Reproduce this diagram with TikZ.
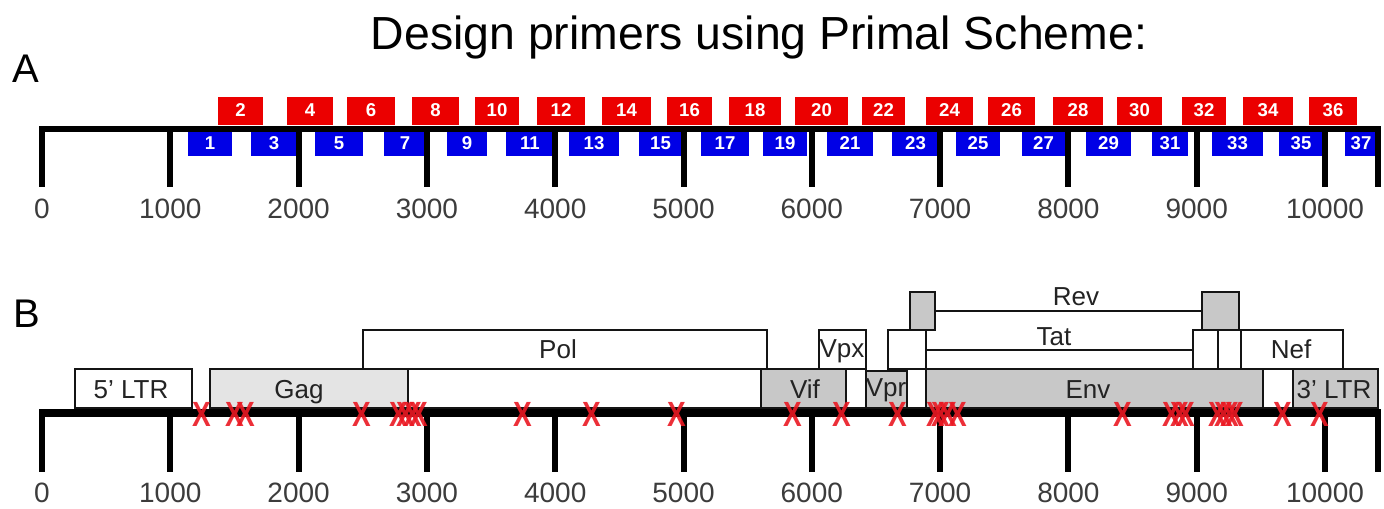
\documentclass[tikz,border=0pt]{standalone}
\usepackage{fontspec}
\setmainfont{Liberation Sans}
\definecolor{fwdred}{RGB}{235,0,0}
\definecolor{revblue}{RGB}{0,0,230}
\definecolor{axisgray}{RGB}{60,60,60}
\definecolor{labelgray}{RGB}{35,35,35}
\definecolor{linegray}{RGB}{20,20,20}
\definecolor{gaggray}{RGB}{228,228,228}
\definecolor{genegray}{RGB}{200,200,200}
\definecolor{mutred}{RGB}{235,25,35}
\begin{document}
\begin{tikzpicture}[x=0.5pt,y=-0.5pt,
  prnum/.style={text=white,font=\fontsize{9.3}{9.3}\selectfont\bfseries,inner sep=0pt},
  axnum/.style={text=axisgray,font=\fontsize{14}{14}\selectfont,anchor=base,inner sep=0pt},
  axline/.style={line width=3pt,black},
  tickline/.style={line width=3pt,black},
  gene/.style={draw=linegray,line width=0.75pt},
  genelabel/.style={text=labelgray,font=\fontsize{13}{13}\selectfont,anchor=base,inner sep=0pt},
  mut/.style={text=mutred,opacity=0.9,font=\fontsize{17.5}{17.5}\selectfont\bfseries,inner sep=0pt},
  panel/.style={font=\fontsize{20}{20}\selectfont,anchor=base west,inner sep=0pt},
]
\fill[white] (0,0) rectangle (1384,508);
\useasboundingbox (0,0) rectangle (1384,508);

% title and panel letters
\node[font=\fontsize{23.2}{23.2}\selectfont,anchor=base,inner sep=0pt] (title) at (759,50) {Design primers using Primal Scheme:};
\node[panel] (panelA) at (12,83) {A};
\node[panel] (panelB) at (13,327) {B};

% ---------- panel A: amplicon primers ----------
\foreach \n/\a/\b in {2/218/263, 4/287/333, 6/347/395, 8/412/459, 10/475/519,
  12/537/585, 14/602/651, 16/667/712, 18/729/781, 20/795/848, 22/862/905,
  24/926/973, 26/988/1035, 28/1053/1103, 30/1117/1162, 32/1182/1226,
  34/1243/1293, 36/1309/1357}{
  \fill[fwdred] (\a,97) rectangle (\b,125);
  \node[prnum] (f\n) at ({(\a+\b)/2},110.5) {\n};
}
\foreach \n/\a/\b in {1/188/232, 3/251/297, 5/315/363, 7/384/426, 9/447/487,
  11/506/554, 13/569/619, 15/639/682, 17/701/749, 19/763/807, 21/827/873,
  23/892/939, 25/956/1000, 27/1022/1065, 29/1086/1131, 31/1152/1188,
  33/1212/1263, 35/1279/1323, 37/1345/1377}{
  \fill[revblue] (\a,130) rectangle (\b,156);
  \node[prnum] (r\n) at ({(\a+\b)/2},143) {\n};
}

% axis A
\draw[axline] (39,129) -- (1381,129);
\foreach \x/\lab in {42/0, 170.3/1000, 298.6/2000, 426.9/3000, 555.2/4000,
  683.5/5000, 811.8/6000, 940.1/7000, 1068.4/8000, 1196.7/9000, 1325/10000}{
  \draw[tickline] (\x,129) -- (\x,187);
  \node[axnum] (a\lab) at (\x,218) {\lab};
}
\draw[tickline] (1378,129) -- (1378,187);

% ---------- panel B: genome map ----------
% bottom row
\draw[gene,fill=white]    (75,369)   rectangle (192,408);
\draw[gene,fill=gaggray]  (210,369)  rectangle (408,408);
\draw[gene,fill=white]    (408,369)  rectangle (761,408);
\draw[gene,fill=genegray] (761,369)  rectangle (846,408);
\draw[gene,fill=white]    (846,369)  rectangle (866,408);
\draw[gene,fill=genegray] (866,371)  rectangle (907,408);
\draw[gene,fill=white]    (907,369)  rectangle (926,408);
\draw[gene,fill=genegray] (926,369)  rectangle (1263,408);
\draw[gene,fill=white]    (1263,369) rectangle (1293,408);
\draw[gene,fill=genegray] (1293,369) rectangle (1378,408);
% middle row
\draw[gene,fill=white] (363,330)  rectangle (767,369);
\draw[gene,fill=white] (819,330)  rectangle (866,369);
\draw[gene,fill=white] (888,330)  rectangle (926,369);
\draw[gene] (926,350) -- (1193,350);
\draw[gene,fill=white] (1193,330) rectangle (1218,369);
\draw[gene,fill=white] (1218,330) rectangle (1241,369);
\draw[gene,fill=white] (1241,330) rectangle (1343,369);
% top row
\draw[gene,fill=genegray] (910,292)  rectangle (935,330);
\draw[gene] (935,311) -- (1202,311);
\draw[gene,fill=genegray] (1202,292) rectangle (1239,330);

% gene labels
\node[genelabel] (ltr5) at (131,398)  {5' LTR};
\node[genelabel] (gag)  at (299,398)  {Gag};
\node[genelabel] (pol)  at (558,358)  {Pol};
\node[genelabel] (vif)  at (805,398)  {Vif};
\node[genelabel] (vpx)  at (842,357)  {Vpx};
\node[genelabel] (vpr)  at (886,396)  {Vpr};
\node[genelabel] (env)  at (1088,398) {Env};
\node[genelabel] (ltr3) at (1334,398) {3' LTR};
\node[genelabel] (rev)  at (1076,305) {Rev};
\node[genelabel] (tat)  at (1054,345) {Tat};
\node[genelabel] (nef)  at (1291,358) {Nef};

% axis B
\draw[line width=4pt,black] (39,412.5) -- (1381,412.5);
\foreach \x/\lab in {42/0, 170.3/1000, 298.6/2000, 426.9/3000, 555.2/4000,
  683.5/5000, 811.8/6000, 940.1/7000, 1068.4/8000, 1196.7/9000, 1325/10000}{
  \draw[tickline] (\x,412.5) -- (\x,472);
  \node[axnum] (b\lab) at (\x,502) {\lab};
}
\draw[tickline] (1378,412.5) -- (1378,472);

% mutation sites
\foreach \x [count=\i] in {202, 235, 246, 362, 399, 406, 413, 419, 523, 592,
  677, 793, 842, 898, 936, 941, 948, 958, 1123, 1172, 1180, 1186, 1218, 1224,
  1230, 1235, 1283, 1320}{
  \node[mut] (m\i) at (\x,414) {\scalebox{0.8}[1]{X}};
}
\end{tikzpicture}
\end{document}
